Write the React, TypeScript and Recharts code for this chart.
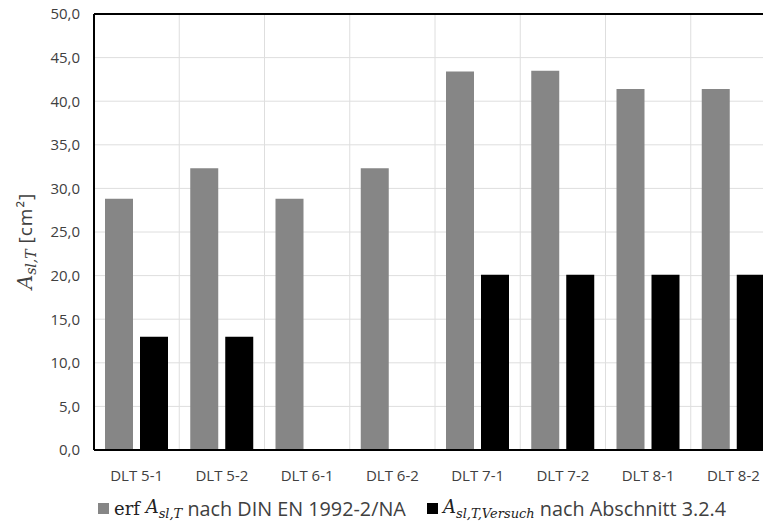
import React from "react";
import {
	BarChart,
	Bar,
	XAxis,
	YAxis,
	CartesianGrid,
	Legend,
	ReferenceLine,
} from "recharts";

const categories = [
	"DLT 5-1",
	"DLT 5-2",
	"DLT 6-1",
	"DLT 6-2",
	"DLT 7-1",
	"DLT 7-2",
	"DLT 8-1",
	"DLT 8-2",
];
const erfValues = [28.8, 32.3, 28.8, 32.3, 43.4, 43.5, 41.4, 41.4];
const versuchValues = [13.0, 13.0, 0, 0, 20.1, 20.1, 20.1, 20.1];
const yTicks = [0, 5, 10, 15, 20, 25, 30, 35, 40, 45, 50];

const data = categories.map((name, i) => ({
	name,
	erf: erfValues[i],
	versuch: versuchValues[i],
}));

const GRAY = "#868686";
const TEXT = "#404040";
const SANS = '"Open Sans", sans-serif';
const MATH = '"DejaVu Serif", serif';

const fmt = (v: number) => v.toFixed(1).replace(".", ",");

const YLabel = (props: any) => {
	const vb = props.viewBox || {};
	const x = 32;
	const y = vb.y + vb.height / 2 + 9;
	return (
		<text
			x={x}
			y={y}
			transform={`rotate(-90, ${x}, ${y})`}
			textAnchor="middle"
			fill={TEXT}
		>
			<tspan fontFamily={MATH} fontStyle="italic" fontSize={20}>
				A
			</tspan>
			<tspan fontFamily={MATH} fontStyle="italic" fontSize={14} dy={4}>
				sl,T
			</tspan>
			<tspan fontFamily={SANS} fontSize={19} dy={-4} letterSpacing={1}>
				{" "}[cm²]
			</tspan>
		</text>
	);
};

const Swatch = ({ color }: { color: string }) => (
	<span
		style={{
			display: "inline-block",
			width: 11,
			height: 11,
			background: color,
			marginRight: 5,
		}}
	/>
);

const MathA = ({ sub }: { sub: string }) => (
	<span style={{ fontFamily: MATH, fontSize: 18, fontStyle: "italic", color: "#222" }}>
		A<sub style={{ fontSize: 13 }}>{sub}</sub>
	</span>
);

const LegendContent = () => (
	<div
		style={{
			position: "relative",
			height: 34,
			fontFamily: SANS,
			fontSize: 19.8,
			color: TEXT,
			whiteSpace: "nowrap",
		}}
	>
		<div
			style={{ position: "absolute", left: 98, top: 5, display: "flex", alignItems: "center" }}
		>
			<Swatch color={GRAY} />
			<span style={{ fontFamily: MATH, fontSize: 18, color: "#222" }}>erf&nbsp;</span>
			<MathA sub="sl,T" />
			<span>&nbsp;nach DIN EN 1992-2/NA</span>
		</div>
		<div
			style={{ position: "absolute", left: 427, top: 5, display: "flex", alignItems: "center" }}
		>
			<Swatch color="#000" />
			<MathA sub="sl,T,Versuch" />
			<span>&nbsp;nach Abschnitt 3.2.4</span>
		</div>
	</div>
);

export default function App() {
	return (
		<div
			style={{
				position: "fixed",
				left: 0,
				top: 0,
				width: 763,
				height: 524,
				overflow: "hidden",
				background: "#fff",
			}}
		>
			<BarChart
				width={790}
				height={524}
				data={data}
				margin={{ top: 14, right: 14, bottom: 0, left: 0 }}
				barSize={28}
				barGap={7}
				barCategoryGap={11}
			>
				<CartesianGrid
					stroke="#dedede"
					strokeWidth={1}
					verticalCoordinatesGenerator={({ offset }: any) =>
						categories.map(
							(_, i) => offset.left + ((i + 1) * offset.width) / categories.length
						)
					}
				/>
				<XAxis
					dataKey="name"
					height={40}
					axisLine={{ stroke: "#000", strokeWidth: 2 }}
					tickLine={false}
					tickMargin={14}
					tick={{ fill: TEXT, fontFamily: SANS, fontSize: 15 }}
				/>
				<YAxis
					width={94}
					domain={[0, 50]}
					ticks={yTicks}
					tickFormatter={fmt}
					axisLine={{ stroke: "#000", strokeWidth: 2 }}
					tickLine={false}
					tickMargin={8}
					tick={{ fill: TEXT, fontFamily: SANS, fontSize: 15 }}
					label={<YLabel />}
				/>
				<ReferenceLine y={50} stroke="#000" strokeWidth={2} />
				<Legend
					verticalAlign="bottom"
					content={<LegendContent />}
					wrapperStyle={{ left: 0, bottom: 0, width: 763, height: 34 }}
				/>
				<Bar dataKey="erf" fill={GRAY} isAnimationActive={false} />
				<Bar dataKey="versuch" fill="#000" isAnimationActive={false} />
			</BarChart>
		</div>
	);
}
